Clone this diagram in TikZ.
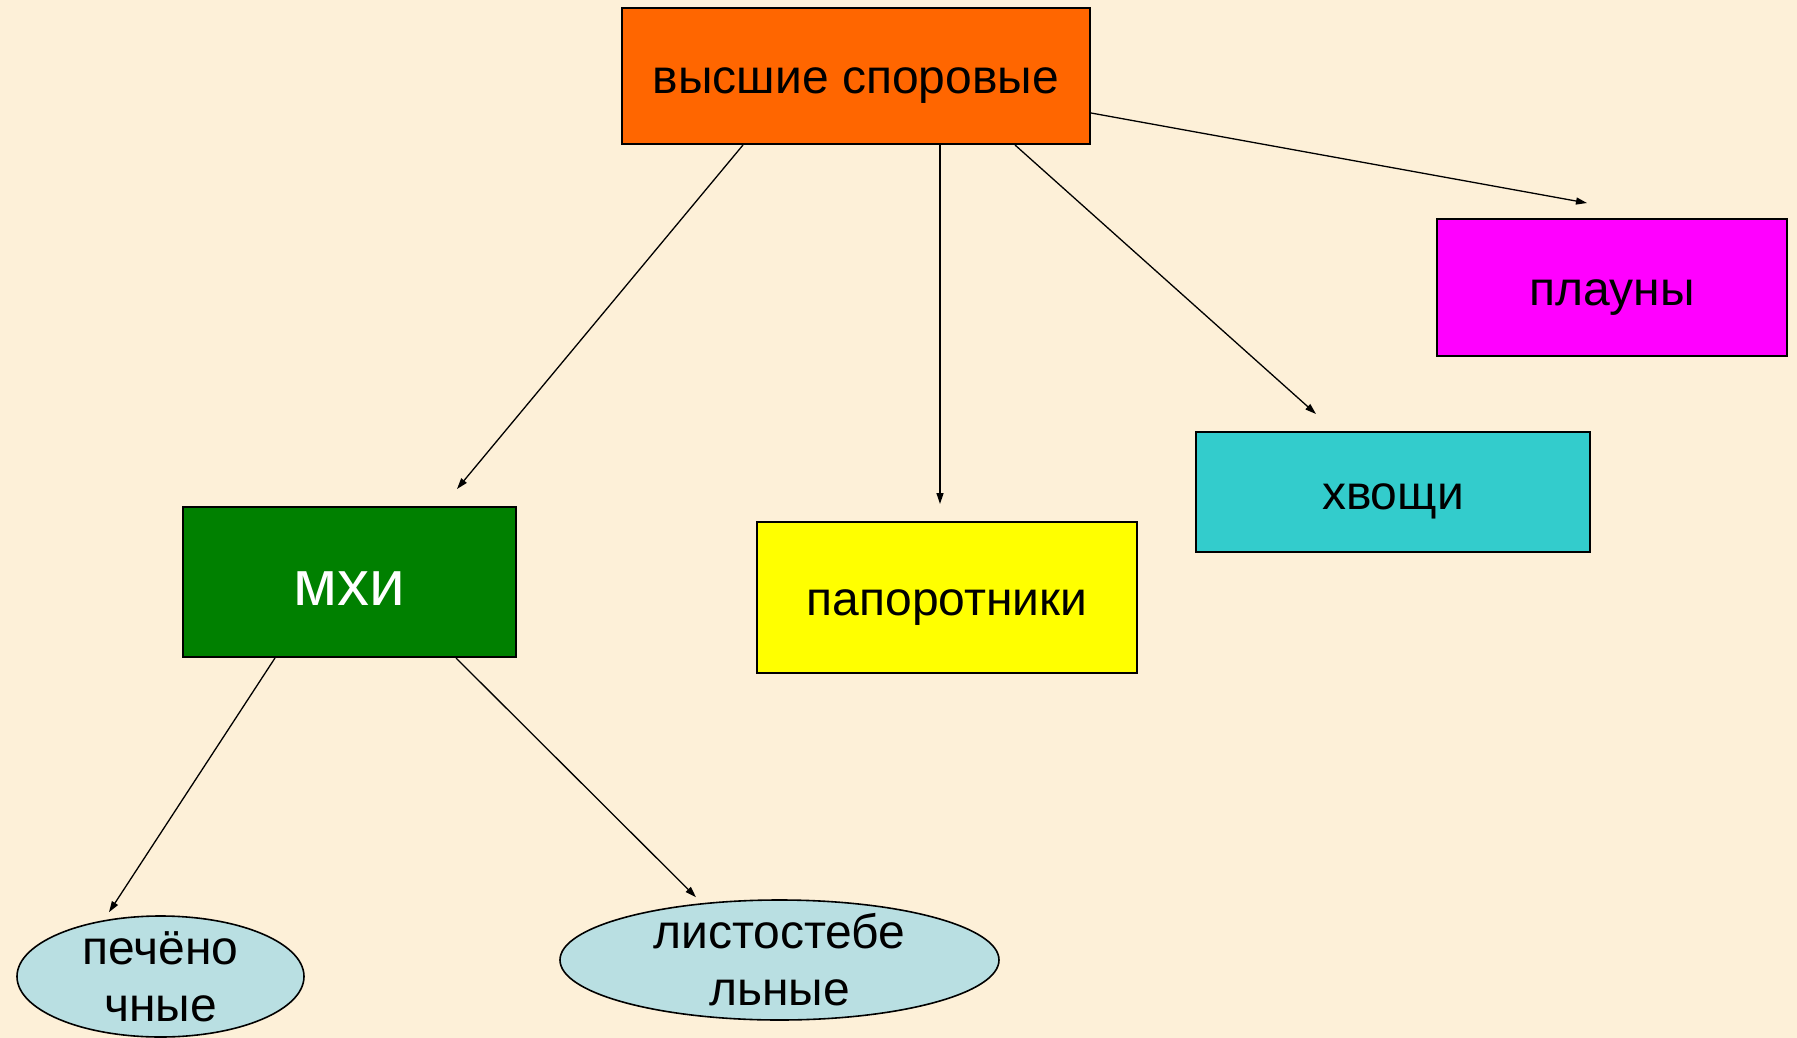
\documentclass[tikz,border=0pt]{standalone}
\usepackage{fontspec}
\setmainfont{Liberation Sans}
\usetikzlibrary{arrows.meta,shapes.geometric}
\definecolor{bgbeige}{HTML}{FDF0D8}
\definecolor{sporeorange}{HTML}{FF6600}
\definecolor{clubpink}{HTML}{FF00FF}
\definecolor{fernyellow}{HTML}{FFFF00}
\definecolor{mossgreen}{HTML}{008000}
\definecolor{horsecyan}{HTML}{33CCCC}
\definecolor{ovalblue}{HTML}{B9DFE2}

\begin{document}
\begin{tikzpicture}[x=1pt,y=-1pt,
  box/.style={draw=black,line width=2pt,rectangle,inner sep=0pt,
    text height=35pt,text depth=0pt,font=\fontsize{48}{56}\selectfont},
  oval/.style={draw=black,line width=1.6pt,ellipse,inner sep=0pt,fill=ovalblue},
  ovaltext/.style={align=center,inner sep=0pt,font=\fontsize{48}{57}\selectfont},
  link/.style={line width=1.3pt,-{Triangle[length=11pt,width=7pt]}}]
  \fill[bgbeige] (0,0) rectangle (1797,1038);
  \useasboundingbox (0,0) rectangle (1797,1038);

  \node[box,fill=sporeorange,minimum width=468pt,minimum height=136pt] (top) at (856,76) {высшие споровые};
  \node[box,fill=clubpink,minimum width=350pt,minimum height=137pt] (plauny) at (1612,287.5) {плауны};
  \node[box,fill=horsecyan,minimum width=394pt,minimum height=120pt] (hvoshchi) at (1393,492) {хвощи};
  \node[box,fill=fernyellow,minimum width=380pt,minimum height=151pt] (paporotniki) at (947,597.5) {папоротники};
  \node[box,fill=mossgreen,text=white,minimum width=333pt,minimum height=150pt,
    text height=46pt,font=\fontsize{64}{70}\selectfont] (mkhi) at (349.5,582) {мхи};

  \node[oval,minimum width=287pt,minimum height=121pt] (pecheno) at (160.5,976.5) {};
  \node[ovaltext] (pechenotext) at (pecheno.center) {печёно\\чные};
  \node[oval,minimum width=439pt,minimum height=120pt] (listo) at (779.5,960) {};
  \node[ovaltext] (listotext) at (listo.center) {листостебе\\льные};

  \draw[link] ([xshift=-113pt]top.south) -- ([xshift=107.5pt,yshift=17pt]mkhi.north);
  \draw[link] ([xshift=84pt]top.south) -- ([xshift=-7pt,yshift=17pt]paporotniki.north);
  \draw[link] ([xshift=159pt]top.south) -- ([xshift=-77pt,yshift=17pt]hvoshchi.north);
  \draw[link] ([yshift=-37pt]top.east) -- ([xshift=-25pt,yshift=15pt]plauny.north);
  \draw[link] ([xshift=-74.5pt]mkhi.south) -- ([xshift=-51.5pt,yshift=3pt]pecheno.north);
  \draw[link] ([xshift=106.5pt]mkhi.south) -- ([xshift=-83.5pt,yshift=2pt]listo.north);
\end{tikzpicture}
\end{document}
